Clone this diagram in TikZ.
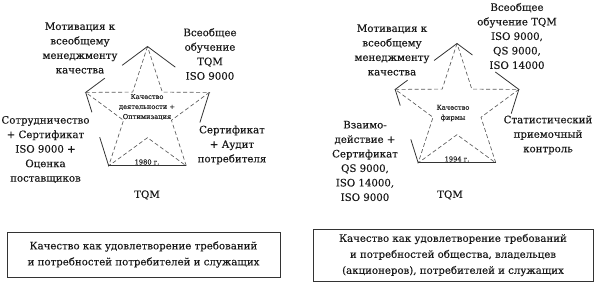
\documentclass[tikz,border=0pt]{standalone}
\usepackage{fontspec}
\setmainfont{DejaVu Serif}[FakeBold=0.2]
\usetikzlibrary{calc}
\begin{document}
\begin{tikzpicture}[x=1pt,y=1pt,
  lbl/.style={align=center, inner sep=0pt, font=\fontsize{10.2}{14.5}\selectfont, text=black!90},
  smalltxt/.style={align=center, inner sep=0pt, font=\fontsize{6.7}{10}\selectfont, text=black!85},
  pedge/.style={draw=black!80, line width=0.8pt},
  starline/.style={draw=black!65, line width=0.65pt, dash pattern=on 4pt off 2.5pt},
  txtbox/.style={draw=black!80, line width=0.8pt, align=center, inner sep=0pt, text=black!90, font=\fontsize{10.2}{16}\selectfont}]
\useasboundingbox (0,0) rectangle (600,-283);

% ---------- left star ----------
\coordinate (C1) at (147.5,-112.5);
\path (C1) ++(90:66)  coordinate (T1);
\path (C1) ++(18:65)  coordinate (R1);
\path (C1) ++(-54:66) coordinate (BR1);
\path (C1) ++(-126:66) coordinate (BL1);
\path (C1) ++(162:65) coordinate (L1);
\path (C1) ++(126:25.2) coordinate (Ia1);
\path (C1) ++(198:25.2) coordinate (Ib1);
\path (C1) ++(270:25.2) coordinate (Ic1);
\path (C1) ++(342:25.2) coordinate (Id1);
\path (C1) ++(54:25.2)  coordinate (Ie1);
\draw[starline] (T1) -- (Ia1) -- (L1) -- (Ib1) -- (BL1) -- (Ic1) -- (BR1) -- (Id1) -- (R1) -- (Ie1) -- cycle;
\draw[pedge] (T1) -- ($(T1)!0.41!(L1)$);
\draw[pedge] ($(T1)!0.69!(L1)$) -- (L1);
\draw[pedge] (T1) -- ($(T1)!0.45!(R1)$);
\draw[pedge] (R1) -- ($(R1)!0.41!(BR1)$);
\draw[pedge] (BR1) -- (BL1);
\draw[pedge] (L1) -- ($(L1)!0.27!(BL1)$);
\draw[pedge] ($(L1)!0.61!(BL1)$) -- (BL1);

\node[lbl] (mot1) at (80,-48) {Мотивация к\\всеобщему\\менеджменту\\качества};
\node[lbl] (obu1) at (210,-54) {Всеобщее\\обучение\\TQM\\ISO 9000};
\node[lbl] (sot1) at (45.5,-149.5) {Сотрудничество\\+ Сертификат\\ISO 9000 +\\Оценка\\поставщиков};
\node[lbl] (ser1) at (232,-145) {Сертификат\\+ Аудит\\потребителя};
\node[smalltxt] (cen1) at (147,-107) {Качество\\деятельности +\\Оптимизация};
\node[smalltxt] (yr1) at (147,-162) {1980 г.};
\node[lbl] (tqm1) at (147,-195) {TQM};

% ---------- right star ----------
\coordinate (C2) at (457,-109.5);
\path (C2) ++(90:66)  coordinate (T2);
\path (C2) ++(18:65)  coordinate (R2);
\path (C2) ++(-54:66) coordinate (BR2);
\path (C2) ++(-126:66) coordinate (BL2);
\path (C2) ++(162:65) coordinate (L2);
\path (C2) ++(126:25.2) coordinate (Ia2);
\path (C2) ++(198:25.2) coordinate (Ib2);
\path (C2) ++(270:25.2) coordinate (Ic2);
\path (C2) ++(342:25.2) coordinate (Id2);
\path (C2) ++(54:25.2)  coordinate (Ie2);
\draw[starline] (T2) -- (Ia2) -- (L2) -- (Ib2) -- (BL2) -- (Ic2) -- (BR2) -- (Id2) -- (R2) -- (Ie2) -- cycle;
\draw[pedge] (T2) -- ($(T2)!0.37!(L2)$);
\draw[pedge] ($(T2)!0.8!(L2)$) -- (L2);
\draw[pedge] (T2) -- ($(T2)!0.25!(R2)$);
\draw[pedge] ($(T2)!0.62!(R2)$) -- (R2);
\draw[pedge] (R2) -- ($(R2)!0.33!(BR2)$);
\draw[pedge] (BR2) -- (BL2);
\draw[pedge] (L2) -- ($(L2)!0.22!(BL2)$);
\draw[pedge] ($(L2)!0.68!(BL2)$) -- (BL2);

\node[lbl] (mot2) at (392,-50) {Мотивация к\\всеобщему\\менеджменту\\качества};
\node[lbl] (obu2) at (517,-36) {Всеобщее\\обучение TQM\\ISO 9000,\\QS 9000,\\ISO 14000};
\node[lbl] (vza2) at (365,-161) {Взаимо-\\действие +\\Сертификат\\QS 9000,\\ISO 14000,\\ISO 9000};
\node[lbl] (sta2) at (548,-135) {Статистический\\приемочный\\контроль};
\node[smalltxt] (cen2) at (453,-113) {Качество\\фирмы};
\node[smalltxt] (yr2) at (457,-159) {1994 г.};
\node[lbl] (tqm2) at (450,-195) {TQM};

% ---------- boxes ----------
\node[txtbox, minimum width=273pt, minimum height=45pt] (box1) at (143.5,-254.5)
  {Качество как удовлетворение требований\\и потребностей потребителей и служащих};
\node[txtbox, minimum width=280pt, minimum height=52pt] (box2) at (453,-255)
  {Качество как удовлетворение требований\\и потребностей общества, владельцев\\(акционеров), потребителей и служащих};
\end{tikzpicture}
\end{document}
